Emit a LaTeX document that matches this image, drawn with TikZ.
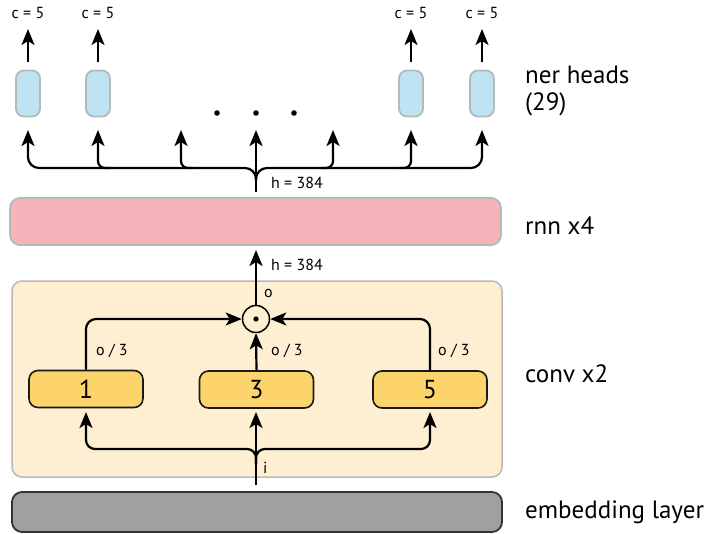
\documentclass[tikz,border=0pt]{standalone}
\usepackage{fontspec}
\setmainfont{PT Sans}
\usetikzlibrary{arrows.meta}
\definecolor{embfill}{HTML}{A0A0A0}
\definecolor{convbg}{HTML}{FEEFD2}
\definecolor{convbox}{HTML}{FDD36B}
\definecolor{rnnfill}{HTML}{F5B4B9}
\definecolor{headfill}{HTML}{BEE3F3}
\definecolor{softgrey}{HTML}{B8B8B8}
\tikzset{
  layer/.style={draw, rounded corners=10pt, line width=1.8pt, minimum width=490pt, inner sep=0pt},
  kernel/.style={draw=black!90, fill=convbox, rounded corners=9pt, line width=1.6pt,
    minimum width=114pt, minimum height=37pt, inner sep=0pt, font=\fontsize{26}{26}\selectfont},
  head/.style={draw=softgrey, fill=headfill, rounded corners=8pt, line width=1.8pt,
    minimum width=24pt, minimum height=46pt, inner sep=0pt},
  flow/.style={line width=2.2pt, -{Stealth[length=16pt, width=13pt, inset=4pt]}},
  wire/.style={line width=2.2pt},
  small/.style={font=\fontsize{16}{16}\selectfont, inner sep=0pt},
  side/.style={font=\fontsize{25}{29}\selectfont, anchor=west, inner sep=0pt, align=left},
}
\begin{document}
\begin{tikzpicture}[x=1pt, y=-1pt]
\useasboundingbox (0,0) rectangle (706,533);

% layers
\node[layer, draw=black!80, fill=embfill, minimum height=40pt] (emb) at (257,512) {};
\node[layer, draw=softgrey, fill=convbg, minimum height=196pt, line width=1.5pt] (conv) at (257,379) {};
\node[layer, draw=softgrey, fill=rnnfill, minimum height=47pt, minimum width=491pt] (rnn) at (255.5,221.5) {};

% convolution kernels and the merge
\node[kernel] (k1) at (86,389) {1};
\node[kernel] (k3) at (256.5,389.5) {3};
\node[kernel] (k5) at (430,389.5) {5};
\node[circle, draw, line width=1.5pt, minimum size=27pt, inner sep=0pt] (mix) at (256,319) {};
\fill (mix.center) circle (2.6pt);

% input split into the three kernels
\coordinate (in) at (256,485);
\coordinate (split) at (256,464);
\coordinate (k1in) at (86,412);
\coordinate (k3in) at (256,412);
\coordinate (k5in) at (430,412);
\draw[flow] (in) -- (k3in);
\draw[flow, rounded corners=9pt] (split) |- (86,449) -- (k1in);
\draw[flow, rounded corners=9pt] (split) |- (430,449) -- (k5in);
\node[small, anchor=west] at (263,468) {i};

% kernel outputs into the merge
\draw[flow, rounded corners=10pt] (k1.north) |- (mix.west);
\draw[flow, rounded corners=10pt] (k5.north) |- (mix.east);
\draw[flow] (k3.north) -- (mix.south);
\node[small, anchor=west] at (96,351) {o / 3};
\node[small, anchor=west] at (271,351) {o / 3};
\node[small, anchor=west] at (438,351) {o / 3};
\node[small, anchor=west] at (264,293) {o};

% merge into the recurrent layers
\coordinate (rnnin) at (256,250);
\draw[flow] (mix.north) -- (rnnin);
\node[small, anchor=west] at (271,265) {h = 384};

% heads
\node[head] (h1) at (28,93.5) {};
\node[head] (h2) at (98,93.5) {};
\node[head] (h3) at (411,93.5) {};
\node[head] (h4) at (482,93.5) {};

\foreach \n/\x in {h1/28,h2/98,h3/411,h4/482} {
  \coordinate (\n out) at (\x,62);
  \coordinate (\n top) at (\x,29);
  \draw[flow] (\n out) -- (\n top);
  \node[small] at (\x,13) {c = 5};
}

% recurrent output fanned out to the heads
\coordinate (fan) at (256,192);
\coordinate (fork) at (256,180);
\coordinate (t1) at (28,130);
\coordinate (t2) at (98,130);
\coordinate (t3) at (181,130);
\coordinate (t4) at (256,130);
\coordinate (t5) at (333,130);
\coordinate (t6) at (411,130);
\coordinate (t7) at (482,130);
\draw[flow, line width=2.6pt] (fan) -- (t4);
\draw[flow, rounded corners=11pt] (fork) |- (28,168) -- (t1);
\draw[flow, rounded corners=11pt] (fork) |- (482,168) -- (t7);
\draw[flow, rounded corners=7pt] (110,168) -| (t2);
\draw[flow, rounded corners=7pt] (193,168) -| (t3);
\draw[flow, rounded corners=7pt] (321,168) -| (t5);
\draw[flow, rounded corners=7pt] (399,168) -| (t6);
\node[small, anchor=west] at (271,183) {h = 384};

% ellipsis between the heads
\foreach \x in {217,256,294} \fill (\x,113) circle (2.8pt);

% layer names
\node[side] at (525,75) {ner heads};
\node[side] at (525,104) {(29)};
\node[side] at (525,226) {rnn x4};
\node[side] at (525,374) {conv x2};
\node[side] at (525,512) {embedding layer};
\end{tikzpicture}
\end{document}
